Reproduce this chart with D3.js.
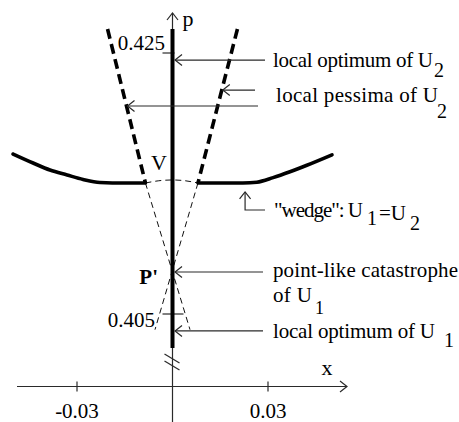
<!DOCTYPE html>
<html>
<head>
<meta charset="utf-8">
<script src="https://cdn.jsdelivr.net/npm/d3@7"></script>
<style>
  html, body { margin: 0; padding: 0; background: #fff; }
  text { font-family: "Liberation Serif", "Times New Roman", serif; fill: #000; }
</style>
</head>
<body>
<svg id="chart" width="459" height="422" font-family="Liberation Serif, serif"></svg>
<script>
// ---- values -------------------------------------------------------------
const pTicks = [0.425, 0.405];
const pTickLabels = ["0.425", "0.405"];
const xTicks = [-0.03, 0.03];
const xTickLabels = ["-0.03", "0.03"];

// "wedge" U1 = U2 : solid branches on both sides
const wedgeLeftX  = [-0.0501, -0.0438, -0.0385, -0.0331, -0.0281, -0.0228, -0.0150, -0.0085];
const wedgeLeftP  = [0.41726, 0.41657, 0.41603, 0.41565, 0.41531, 0.41508, 0.41504, 0.41504];
const wedgeRightX = [0.0080, 0.0150, 0.0221, 0.0265, 0.0316, 0.0369, 0.0422, 0.0501];
const wedgeRightP = [0.41504, 0.41504, 0.41504, 0.41510, 0.41545, 0.41590, 0.41640, 0.41720];
// dashed part of the wedge between the branches, through V
const wedgeGapX = [-0.0085, -0.0043, 0.0, 0.0040, 0.0080];
const wedgeGapP = [0.41504, 0.41521, 0.41527, 0.41521, 0.41504];

// local pessima of U2 (two thick dashed lines)
const pessimaLeftX  = [-0.0204, -0.0085];
const pessimaRightX = [0.0204, 0.0080];
const pessimaP      = [0.42684, 0.41504];

// thin dashed lines crossing at the point-like catastrophe P'
const crossAX = [-0.0085, 0.0055];
const crossBX = [0.0080, -0.0055];
const crossP  = [0.41504, 0.40380];

// local optimum branch on x = 0
const optimumP = [0.42684, 0.40239];

// marked points
const pointV = 0.41527;
const pointPprime = 0.40822;

// p levels of the annotation arrows
const optU2P = 0.42446;
const pessU2P = [0.42216, 0.42094];   // right branch, left branch
const catastropheP = 0.40822;
const optU1P = 0.40370;
const wedgeNoteX = 0.0228;

// ---- drawing ------------------------------------------------------------
const svg = d3.select("#chart");
svg.append("rect").attr("width", 459).attr("height", 422).attr("fill", "#fff");

const xs = d3.scaleLinear().domain([-0.03, 0.03]).range([77, 268]);
const ps = d3.scaleLinear().domain([0.405, 0.425]).range([314, 53]);

const x0 = xs(0);
const xAxisY = 386.5;
const thin = "#2a2a2a";
const FONT = "Liberation Serif";

const line = d3.line().x(d => xs(d[0])).y(d => ps(d[1]));
const smooth = d3.line().x(d => xs(d[0])).y(d => ps(d[1])).curve(d3.curveMonotoneX);
const zip = (a, b) => a.map((v, i) => [v, b[i]]);

function label(x, y, str, size, anchor, len) {
  const t = svg.append("text").attr("x", x).attr("y", y)
    .attr("font-family", FONT).attr("font-size", size)
    .attr("text-anchor", anchor || "start").text(str);
  if (len) t.attr("textLength", len).attr("lengthAdjust", "spacing");
  return t;
}

// vertical p axis (thin, running past the break down to the bottom)
svg.append("line").attr("x1", x0).attr("x2", x0).attr("y1", 13).attr("y2", 422)
  .attr("stroke", thin).attr("stroke-width", 1.2);
svg.append("path").attr("d", `M${x0 - 5.5},${20} L${x0},${13} L${x0 + 5.5},${20}`)
  .attr("fill", "none").attr("stroke", thin).attr("stroke-width", 1.2);
label(x0 + 10, 26, "p", 22);

// axis break marks
[0, 7].forEach(o => {
  svg.append("line").attr("x1", x0 - 8).attr("y1", 354 + o).attr("x2", x0 + 7).attr("y2", 363 + o)
    .attr("stroke", thin).attr("stroke-width", 1.2);
});

// horizontal x axis
svg.append("line").attr("x1", 17).attr("x2", 347).attr("y1", xAxisY).attr("y2", xAxisY)
  .attr("stroke", thin).attr("stroke-width", 1.2);
svg.append("path").attr("d", `M340,${xAxisY - 5.5} L347,${xAxisY} L340,${xAxisY + 5.5}`)
  .attr("fill", "none").attr("stroke", thin).attr("stroke-width", 1.2);
xTicks.forEach((t, i) => {
  svg.append("line").attr("x1", xs(t)).attr("x2", xs(t)).attr("y1", xAxisY - 5).attr("y2", xAxisY + 5)
    .attr("stroke", thin).attr("stroke-width", 1.2);
  label(xs(t), 418, xTickLabels[i], 21, "middle");
});
label(327, 375, "x", 22, "middle");

// p ticks
const tickSpan = [[-10, 2], [-10, 11]];
pTicks.forEach((t, i) => {
  svg.append("line").attr("x1", x0 + tickSpan[i][0]).attr("x2", x0 + tickSpan[i][1])
    .attr("y1", ps(t)).attr("y2", ps(t)).attr("stroke", thin).attr("stroke-width", 1.2);
});
label(165, ps(pTicks[0]) - 3, pTickLabels[0], 21, "end");
label(155, ps(pTicks[1]) + 13, pTickLabels[1], 21, "end");

// thin dashed curves
const dashThin = { stroke: "#111", "stroke-width": 1, "stroke-dasharray": "6,4", fill: "none" };
function styled(sel, st) { Object.entries(st).forEach(([k, v]) => sel.attr(k, v)); return sel; }
styled(svg.append("path").attr("d", d3.line().x(d => xs(d[0])).y(d => ps(d[1])).curve(d3.curveNatural)(zip(wedgeGapX, wedgeGapP))), dashThin);
styled(svg.append("path").attr("d", line(zip(crossAX, crossP))), dashThin);
styled(svg.append("path").attr("d", line(zip(crossBX, crossP))), dashThin);

// thick dashed: local pessima of U2
const dashThick = { stroke: "#000", "stroke-width": 3.6, "stroke-dasharray": "10,5.5", fill: "none" };
styled(svg.append("path").attr("d", line(zip(pessimaLeftX, pessimaP))), dashThick);
styled(svg.append("path").attr("d", line(zip(pessimaRightX, pessimaP))), dashThick);

// thick solid: wedge branches
const solidThick = { stroke: "#000", "stroke-width": 3.6, fill: "none", "stroke-linecap": "round" };
styled(svg.append("path").attr("d", smooth(zip(wedgeLeftX, wedgeLeftP))), solidThick);
styled(svg.append("path").attr("d", smooth(zip(wedgeRightX, wedgeRightP))), solidThick);

// thick solid: local optimum on x = 0
svg.append("line").attr("x1", x0).attr("x2", x0).attr("y1", ps(optimumP[0])).attr("y2", ps(optimumP[1]))
  .attr("stroke", "#000").attr("stroke-width", 4);

// point labels
label(159, ps(pointV) - 10, "V", 22, "middle");
label(158, ps(pointPprime) + 12, "P'", 21, "end").attr("font-weight", "bold");

// ---- annotation arrows --------------------------------------------------
function xOnSegment(xArr, pArr, p) {
  const f = (p - pArr[0]) / (pArr[1] - pArr[0]);
  return xArr[0] + f * (xArr[1] - xArr[0]);
}
function leftArrow(tipX, y, tailX) {
  svg.append("line").attr("x1", tailX).attr("x2", tipX).attr("y1", y).attr("y2", y)
    .attr("stroke", thin).attr("stroke-width", 1.2);
  svg.append("path").attr("d", `M${tipX + 7},${y - 5.5} L${tipX},${y} L${tipX + 7},${y + 5.5}`)
    .attr("fill", "none").attr("stroke", thin).attr("stroke-width", 1.2);
}
leftArrow(x0 + 2.5, ps(optU2P), 265);
leftArrow(xs(xOnSegment(pessimaRightX, pessimaP, pessU2P[0])) + 1, ps(pessU2P[0]), 255);
leftArrow(xs(xOnSegment(pessimaLeftX, pessimaP, pessU2P[1])) + 1, ps(pessU2P[1]), 258);
leftArrow(x0 + 2.5, ps(catastropheP), 263);
leftArrow(x0 + 2.5, ps(optU1P), 263);

// up arrow pointing at the wedge
const wx = xs(wedgeNoteX);
const wTip = ps(wedgeRightP[2]) + 9;
svg.append("path").attr("d", `M${wx},${wTip} L${wx},210 L265,210`)
  .attr("fill", "none").attr("stroke", thin).attr("stroke-width", 1.2);
svg.append("path").attr("d", `M${wx - 5.5},${wTip + 7} L${wx},${wTip} L${wx + 5.5},${wTip + 7}`)
  .attr("fill", "none").attr("stroke", thin).attr("stroke-width", 1.2);

// ---- annotation text ----------------------------------------------------
label(273, 67, "local optimum of U", 21, "start", 160);
label(434, 77, "2", 20);

label(276, 102, "local pessima of U", 21, "start", 162);
label(437, 118, "2", 20);

label(274, 217, "\"wedge\": U", 21, "start", 89);
label(367, 225, "1", 20);
label(379, 220, "=U", 21);
label(410, 230, "2", 20);

label(273, 277, "point-like catastrophe", 21, "start", 185);
label(273, 302, "of U", 21, "start", 39);
label(315, 314, "1", 18);

label(273, 338, "local optimum of U", 21, "start", 162);
label(444, 347, "1", 20);
</script>
</body>
</html>
